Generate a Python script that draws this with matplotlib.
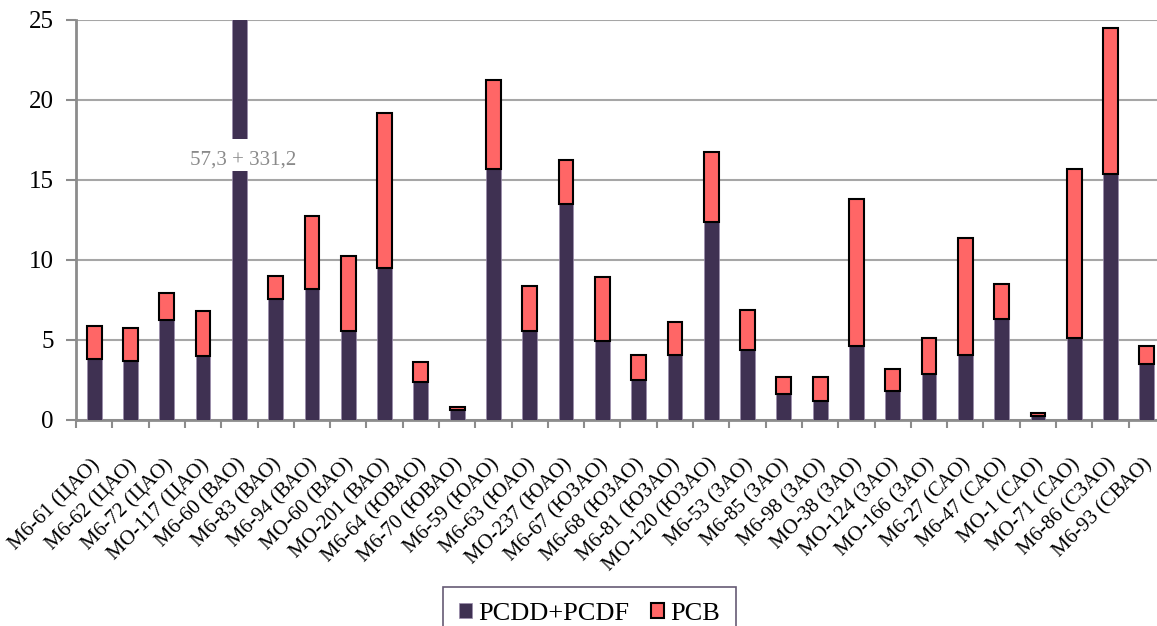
import matplotlib
matplotlib.use('Agg')
import matplotlib.pyplot as plt
import matplotlib.transforms as mtransforms
import numpy as np

# stations and values (PCDD+PCDF / PCB)
stations = ['М6-61 (ЦАО)', 'М6-62 (ЦАО)', 'М6-72 (ЦАО)', 'МО-117 (ЦАО)',
            'М6-60 (ВАО)', 'М6-83 (ВАО)', 'М6-94 (ВАО)', 'МО-60 (ВАО)',
            'МО-201 (ВАО)', 'М6-64 (ЮВАО)', 'М6-70 (ЮВАО)', 'М6-59 (ЮАО)',
            'М6-63 (ЮАО)', 'МО-237 (ЮАО)', 'М6-67 (ЮЗАО)', 'М6-68 (ЮЗАО)',
            'М6-81 (ЮЗАО)', 'МО-120 (ЮЗАО)', 'М6-53 (ЗАО)', 'М6-85 (ЗАО)',
            'М6-98 (ЗАО)', 'МО-38 (ЗАО)', 'МО-124 (ЗАО)', 'МО-166 (ЗАО)',
            'М6-27 (САО)', 'М6-47 (САО)', 'МО-1 (САО)', 'МО-71 (САО)',
            'М6-86 (СЗАО)', 'М6-93 (СВАО)']
pcdd = [3.79, 3.71, 6.23, 3.98, 57.3, 7.54, 8.19, 5.58, 9.48, 2.40,
        0.62, 15.67, 5.58, 13.5, 4.94, 2.50, 4.06, 12.4, 4.37, 1.63,
        1.19, 4.63, 1.83, 2.85, 4.06, 6.31, 0.25, 5.10, 15.4, 3.50]
totals = [5.85, 5.75, 7.92, 6.79, 388.5, 9.02, 12.77, 10.23, 19.21, 3.63,
          0.83, 21.25, 8.38, 16.25, 8.96, 4.06, 6.13, 16.77, 6.85, 2.67,
          2.67, 13.79, 3.21, 5.12, 11.35, 8.48, 0.46, 15.67, 24.52, 4.62]
pcb = [t - d for t, d in zip(totals, pcdd)]
pcb[4] = 331.2

outlier = 4
outlier_text = '57,3 + 331,2'
break_lo, break_hi = 15.56, 17.56

plt.rcParams['font.family'] = ['Liberation Serif', 'DejaVu Serif']

fig = plt.figure(figsize=(11.57, 6.26), dpi=100)
ax = fig.add_axes([76 / 1157, 206 / 626, 1089 / 1157, 400 / 626])

x = np.arange(len(stations))
w = 0.41
ax.bar(x, pcdd, w, color='#3f3152', edgecolor='#9a8cab', linewidth=0.5,
       label='PCDD+PCDF', zorder=3)
ax.bar(x, pcb, w, bottom=pcdd, color='#ff6666', edgecolor='black',
       linewidth=1.5, label='PCB', zorder=3)

# break in the off-scale bar
ax.bar(x[outlier], break_hi - break_lo, w + 0.1, bottom=break_lo,
       color='white', linewidth=0, zorder=4)
ax.text(x[outlier] + 0.1, 16.25, outlier_text,
        ha='center', va='center', fontsize=15, color='#8a8a8a', zorder=5)

ax.set_ylim(0, 25)
ax.set_xlim(-0.5, len(stations) - 0.5)
ax.set_yticks(range(0, 26, 5))
ax.tick_params(axis='y', labelsize=18, length=7, width=1.5, color='#8c8c8c',
               pad=9)
ax.yaxis.grid(True, color='#a6a6a6', linewidth=1.5, zorder=0)
ax.set_axisbelow(True)

ax.set_xticks(x)
ax.set_xticklabels(stations, rotation=45, ha='right', rotation_mode='anchor',
                   fontsize=15)
ax.tick_params(axis='x', which='major', length=0, pad=25)
shift = mtransforms.ScaledTranslation(-4 / 100, 0, fig.dpi_scale_trans)
for lab in ax.get_xticklabels():
    lab.set_transform(lab.get_transform() + shift)
ax.set_xticks(np.arange(len(stations) + 1) - 0.5, minor=True)
ax.tick_params(axis='x', which='minor', length=6, width=1.5, color='#8c8c8c')

for s in ['top', 'right']:
    ax.spines[s].set_visible(False)
for s in ['left', 'bottom']:
    ax.spines[s].set_color('#8c8c8c')
    ax.spines[s].set_linewidth(2)

leg = fig.legend(loc='upper center', bbox_to_anchor=(0.5095, 1 - 587 / 626),
                 ncol=2, fontsize=19, frameon=True, fancybox=False,
                 handlelength=0.5, handleheight=0.5, handletextpad=0.25,
                 columnspacing=0.8, borderpad=0.6, borderaxespad=0)
leg.get_frame().set_edgecolor('#3f3152')
leg.get_frame().set_linewidth(1.2)

fig.savefig('out.png', dpi=100)
